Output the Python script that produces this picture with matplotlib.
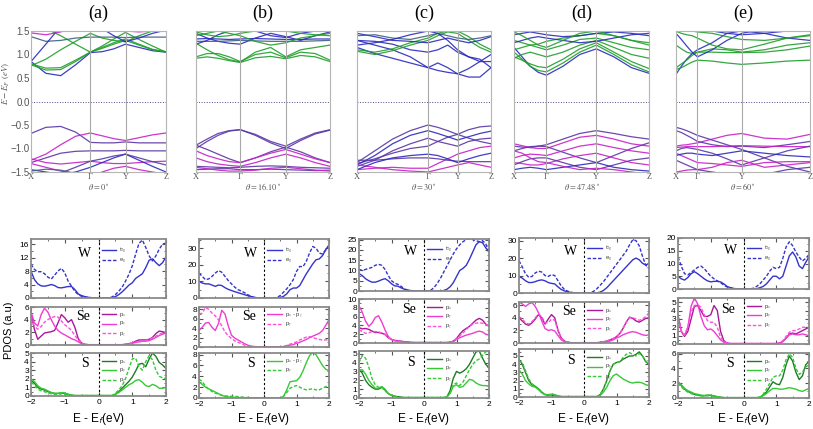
"""Band structures and PDOS of WSSe for five twist angles."""

import matplotlib

matplotlib.use("Agg")
import matplotlib.pyplot as plt
import numpy as np
from matplotlib.ticker import AutoMinorLocator, MultipleLocator

plt.rcParams["font.family"] = ["Liberation Sans", "DejaVu Sans"]
plt.rcParams["mathtext.fontset"] = "stix"

# ---------------------------------------------------------------- labels
panel_titles = ["(a)", "(b)", "(c)", "(d)", "(e)"]
theta_labels = ["0", "16.10", "30", "47.48", "60"]
kpath_labels = ["X", "Γ", "Y", "Z"]

# ---------------------------------------------------------------- band data
k_nodes = [
    [0.0, 0.44, 0.70, 1.0],
    [0.0, 0.33, 0.67, 1.0],
    [0.0, 0.53, 0.75, 1.0],
    [0.0, 0.24, 0.61, 1.0],
    [0.0, 0.16, 0.49, 1.0],
]
k_a = [0.0, 0.11, 0.22, 0.33, 0.44, 0.527, 0.613, 0.70, 0.80, 0.90, 1.0]
k_b = [0.0, 0.0825, 0.165, 0.2475, 0.33, 0.443, 0.557, 0.67, 0.78, 0.89, 1.0]
k_c = [0.0, 0.1325, 0.265, 0.3975, 0.53, 0.603, 0.677, 0.75, 0.833, 0.917, 1.0]
k_d = [0.0, 0.06, 0.12, 0.18, 0.24, 0.363, 0.487, 0.61, 0.74, 0.87, 1.0]
k_e = [0.0, 0.04, 0.08, 0.12, 0.16, 0.27, 0.38, 0.49, 0.66, 0.83, 1.0]

bands_a = [
    [0.85, 0.60, 0.55, 0.78, 1.04, 1.06, 1.12, 1.22, 1.15, 1.08, 1.05],
    [0.78, 0.67, 0.68, 0.85, 1.05, 1.13, 1.22, 1.30, 1.20, 1.10, 1.05],
    [0.80, 0.71, 0.72, 0.88, 1.05, 1.15, 1.25, 1.33, 1.22, 1.11, 1.06],
    [0.76, 0.90, 1.10, 1.28, 1.45, 1.35, 1.30, 1.27, 1.40, 1.50, 1.55],
    [1.62, 1.55, 1.40, 1.22, 1.05, 1.18, 1.33, 1.47, 1.32, 1.18, 1.05],
    [1.38, 1.28, 1.30, 1.35, 1.37, 1.37, 1.37, 1.36, 1.37, 1.37, 1.37],
    [0.85, 1.22, 1.60, 1.80, 1.80, 1.55, 1.40, 1.27, 1.35, 1.45, 1.52],
    [1.46, 1.42, 1.48, 1.60, 1.70, 1.65, 1.55, 1.50, 1.48, 1.50, 1.52],
    [-0.68, -0.55, -0.53, -0.65, -0.87, -0.88, -0.88, -0.86, -0.88, -0.88, -0.88],
    [-1.25, -1.12, -0.92, -0.74, -0.67, -0.73, -0.79, -0.83, -0.77, -0.71, -0.67],
    [-1.30, -1.20, -1.10, -1.06, -1.05, -1.05, -1.05, -1.04, -1.05, -1.05, -1.05],
    [-1.22, -1.30, -1.33, -1.30, -1.27, -1.30, -1.32, -1.32, -1.30, -1.28, -1.27],
    [-1.45, -1.50, -1.55, -1.50, -1.40, -1.30, -1.20, -1.12, -1.25, -1.38, -1.50],
    [-1.32, -1.40, -1.48, -1.55, -1.60, -1.50, -1.42, -1.38, -1.45, -1.50, -1.55],
    [-1.60, -1.58, -1.52, -1.40, -1.27, -1.22, -1.16, -1.12, -1.20, -1.28, -1.35],
    [-1.48, -1.44, -1.46, -1.53, -1.62, -1.70, -1.70, -1.70, -1.70, -1.70, -1.70],
]
chars_a = ["W", "S", "S", "S", "S", "WS", "W", "Se",
           "WSe", "Se", "WSe", "Se", "W", "Se", "WSe", "WS"]

bands_b = [
    [0.92, 0.95, 0.92, 0.87, 0.83, 0.93, 0.96, 0.91, 0.98, 0.95, 0.85],
    [0.95, 1.02, 1.02, 0.95, 0.85, 1.00, 1.05, 0.93, 1.05, 1.02, 0.88],
    [1.24, 1.10, 0.98, 0.89, 0.84, 1.05, 1.15, 0.95, 1.10, 1.15, 1.20],
    [1.45, 1.35, 1.28, 1.24, 1.22, 1.35, 1.45, 1.38, 1.30, 1.40, 1.48],
    [1.28, 1.28, 1.28, 1.29, 1.30, 1.29, 1.28, 1.28, 1.28, 1.29, 1.30],
    [1.33, 1.34, 1.33, 1.32, 1.33, 1.34, 1.33, 1.32, 1.32, 1.33, 1.33],
    [1.22, 1.30, 1.42, 1.50, 1.55, 1.50, 1.40, 1.36, 1.45, 1.50, 1.50],
    [1.40, 1.45, 1.50, 1.45, 1.40, 1.28, 1.20, 1.25, 1.35, 1.40, 1.45],
    [1.48, 1.42, 1.38, 1.40, 1.45, 1.50, 1.55, 1.50, 1.45, 1.42, 1.40],
    [-0.93, -0.80, -0.68, -0.62, -0.60, -0.70, -0.85, -0.95, -0.80, -0.67, -0.60],
    [-1.00, -0.85, -0.72, -0.63, -0.60, -0.72, -0.88, -1.00, -0.83, -0.69, -0.61],
    [-0.93, -1.02, -1.12, -1.22, -1.30, -1.20, -1.07, -0.97, -1.07, -1.20, -1.30],
    [-1.05, -1.15, -1.22, -1.28, -1.30, -1.20, -1.10, -1.02, -1.12, -1.22, -1.30],
    [-1.20, -1.28, -1.33, -1.36, -1.38, -1.30, -1.20, -1.12, -1.20, -1.30, -1.38],
    [-1.38, -1.39, -1.40, -1.41, -1.40, -1.38, -1.37, -1.38, -1.40, -1.41, -1.42],
    [-1.45, -1.44, -1.43, -1.43, -1.45, -1.45, -1.44, -1.45, -1.46, -1.47, -1.46],
    [-1.40, -1.43, -1.46, -1.48, -1.48, -1.46, -1.42, -1.40, -1.43, -1.46, -1.48],
]
chars_b = ["S", "S", "S", "W", "WS", "W", "W", "S", "S",
           "WSe", "WSe", "WSe", "Se", "Se", "WSe", "WSe", "Se"]

bands_c = [
    [1.15, 1.02, 0.92, 0.82, 0.72, 0.66, 0.62, 0.59, 0.52, 0.52, 0.72],
    [1.30, 1.20, 1.10, 0.95, 0.72, 0.82, 0.72, 0.59, 0.70, 0.85, 1.00],
    [1.30, 1.28, 1.22, 1.10, 1.05, 1.10, 1.20, 1.05, 0.95, 0.90, 0.72],
    [1.07, 1.00, 1.08, 1.20, 1.30, 1.40, 1.48, 1.45, 1.30, 1.15, 1.05],
    [1.10, 1.05, 1.12, 1.25, 1.35, 1.45, 1.50, 1.50, 1.38, 1.22, 1.10],
    [1.45, 1.38, 1.30, 1.28, 1.25, 1.30, 1.35, 1.30, 1.25, 1.30, 1.38],
    [1.40, 1.42, 1.35, 1.32, 1.40, 1.45, 1.40, 1.35, 1.32, 1.35, 1.40],
    [1.20, 1.25, 1.32, 1.42, 1.50, 1.45, 1.30, 1.10, 0.95, 0.85, 0.85],
    [-1.30, -1.05, -0.80, -0.62, -0.50, -0.55, -0.62, -0.70, -0.78, -0.85, -0.90],
    [-1.32, -1.22, -1.10, -1.00, -0.95, -0.85, -0.76, -0.70, -0.60, -0.54, -0.52],
    [-1.35, -1.15, -0.90, -0.72, -0.62, -0.68, -0.75, -0.82, -0.75, -0.68, -0.63],
    [-1.38, -1.25, -1.05, -0.90, -0.78, -0.85, -0.90, -0.95, -0.85, -0.80, -0.78],
    [-1.45, -1.42, -1.40, -1.42, -1.42, -1.32, -1.22, -1.12, -1.05, -0.98, -0.95],
    [-1.25, -1.25, -1.22, -1.20, -1.20, -1.22, -1.25, -1.27, -1.28, -1.28, -1.28],
    [-1.35, -1.40, -1.45, -1.48, -1.50, -1.45, -1.40, -1.35, -1.30, -1.35, -1.40],
    [-1.45, -1.30, -1.20, -1.15, -1.12, -1.15, -1.22, -1.30, -1.22, -1.15, -1.10],
]
chars_c = ["W", "W", "W", "S", "S", "W", "WS", "W",
           "WSe", "WSe", "W", "WSe", "Se", "WSe", "Se", "W"]

bands_d = [
    [1.15, 0.95, 0.75, 0.62, 0.56, 0.75, 1.00, 1.12, 0.95, 0.72, 0.60],
    [1.05, 0.90, 0.75, 0.66, 0.63, 0.82, 1.05, 1.20, 1.00, 0.78, 0.63],
    [0.95, 0.88, 0.80, 0.74, 0.72, 0.90, 1.12, 1.25, 1.05, 0.85, 0.70],
    [0.92, 1.00, 1.05, 1.00, 0.95, 1.05, 1.20, 1.30, 1.15, 1.00, 0.92],
    [1.10, 1.15, 1.20, 1.15, 1.10, 1.20, 1.32, 1.35, 1.25, 1.15, 1.10],
    [1.30, 1.25, 1.20, 1.22, 1.28, 1.35, 1.40, 1.45, 1.40, 1.30, 1.25],
    [1.25, 1.30, 1.35, 1.38, 1.35, 1.30, 1.25, 1.28, 1.35, 1.42, 1.45],
    [1.42, 1.45, 1.48, 1.45, 1.42, 1.38, 1.40, 1.45, 1.48, 1.45, 1.40],
    [1.48, 1.40, 1.30, 1.20, 1.15, 1.30, 1.45, 1.50, 1.40, 1.30, 1.20],
    [-0.95, -0.97, -0.98, -0.95, -0.92, -0.80, -0.68, -0.62, -0.68, -0.75, -0.80],
    [-0.90, -0.94, -0.98, -1.00, -1.00, -0.88, -0.76, -0.72, -0.80, -0.90, -0.95],
    [-1.05, -1.00, -0.96, -0.95, -0.96, -1.08, -1.20, -1.30, -1.15, -1.00, -0.88],
    [-1.20, -1.15, -1.12, -1.13, -1.15, -1.05, -0.95, -0.90, -0.98, -1.05, -1.10],
    [-1.30, -1.32, -1.35, -1.35, -1.32, -1.22, -1.15, -1.10, -1.20, -1.30, -1.35],
    [-1.35, -1.28, -1.22, -1.20, -1.20, -1.30, -1.40, -1.45, -1.35, -1.25, -1.20],
    [-1.45, -1.42, -1.40, -1.42, -1.45, -1.40, -1.35, -1.30, -1.40, -1.45, -1.48],
    [-1.05, -1.10, -1.20, -1.28, -1.30, -1.38, -1.45, -1.42, -1.45, -1.50, -1.55],
]
chars_d = ["W", "S", "S", "S", "S", "S", "W", "W", "S",
           "WSe", "Se", "WSe", "Se", "Se", "WSe", "W", "Se"]

bands_e = [
    [0.58, 0.75, 0.90, 1.02, 1.10, 1.25, 1.45, 1.50, 1.45, 1.35, 1.30],
    [0.68, 0.72, 0.78, 0.84, 0.88, 0.86, 0.82, 0.79, 0.82, 0.86, 0.88],
    [0.72, 0.80, 0.88, 0.98, 1.05, 1.05, 1.04, 1.04, 1.05, 1.10, 1.18],
    [1.20, 1.12, 1.05, 1.02, 1.05, 1.12, 1.10, 1.05, 1.10, 1.20, 1.25],
    [1.45, 1.32, 1.18, 1.05, 0.95, 1.10, 1.30, 1.45, 1.55, 1.60, 1.60],
    [1.50, 1.45, 1.42, 1.40, 1.35, 1.20, 1.12, 1.10, 1.22, 1.35, 1.40],
    [1.55, 1.55, 1.55, 1.55, 1.55, 1.50, 1.45, 1.42, 1.45, 1.50, 1.55],
    [1.48, 1.50, 1.52, 1.50, 1.48, 1.45, 1.38, 1.32, 1.30, 1.35, 1.42],
    [-0.95, -0.93, -0.92, -0.90, -0.88, -0.80, -0.72, -0.68, -0.78, -0.80, -0.70],
    [-0.55, -0.58, -0.62, -0.67, -0.72, -0.82, -0.92, -1.02, -1.20, -1.38, -1.50],
    [-0.62, -0.66, -0.72, -0.78, -0.85, -0.92, -0.96, -0.95, -0.98, -0.92, -0.85],
    [-0.98, -0.97, -0.96, -0.96, -0.96, -0.96, -0.95, -0.94, -0.95, -0.96, -0.96],
    [-1.05, -1.00, -0.98, -1.00, -1.02, -1.10, -1.22, -1.35, -1.20, -1.05, -0.95],
    [-1.10, -1.15, -1.20, -1.25, -1.30, -1.32, -1.35, -1.38, -1.30, -1.28, -1.28],
    [-1.50, -1.48, -1.46, -1.45, -1.45, -1.40, -1.30, -1.25, -1.40, -1.35, -1.30],
    [-1.25, -1.30, -1.35, -1.40, -1.45, -1.50, -1.55, -1.60, -1.55, -1.45, -1.40],
    [-1.15, -1.12, -1.10, -1.10, -1.12, -1.15, -1.10, -1.05, -1.10, -1.15, -1.18],
]
chars_e = ["W", "S", "S", "S", "W", "S", "W", "S",
           "Se", "WSe", "WSe", "Se", "WSe", "Se", "Se", "WSe", "W"]

# ---------------------------------------------------------------- PDOS data
energy = np.round(np.arange(-2.0, 2.05, 0.1), 1)

w_t2g_a = [8.0, 5.5, 4.2, 3.6, 3.5, 3.7, 4.0, 3.7, 3.1, 3.0,
           3.2, 3.4, 3.4, 2.5, 1.2, 0.7, 0.4, 0.2, 0.1, 0.0,
           0.0, 0.0, 0.0, 0.0, 0.1, 0.4, 1.0, 1.8, 2.8, 3.8,
           4.5, 5.8, 6.5, 7.2, 9.0, 11.2, 11.6, 10.5, 9.6, 10.5, 12.2]
w_eg_a = [10.0, 8.5, 7.8, 7.8, 7.2, 6.2, 5.6, 6.8, 8.0, 8.8,
          7.5, 5.0, 3.5, 2.0, 1.0, 0.5, 0.3, 0.1, 0.0, 0.0,
          0.0, 0.0, 0.0, 0.0, 0.3, 1.0, 2.0, 3.2, 5.0, 7.0,
          9.5, 13.0, 16.2, 17.2, 15.0, 12.5, 11.0, 12.5, 14.5, 16.0, 16.3]
se_px_a = [5.0, 2.5, 0.9, 1.4, 1.9, 2.0, 2.1, 2.3, 3.5, 4.8,
           4.3, 3.6, 4.0, 2.8, 1.0, 0.3, 0.1, 0.05, 0.05, 0.05,
           0.05, 0.05, 0.05, 0.05, 0.05, 0.05, 0.05, 0.05, 0.1, 0.2,
           0.3, 0.6, 0.8, 0.8, 0.8, 0.9, 1.2, 1.8, 2.2, 2.1, 1.9]
se_py_a = [5.3, 3.5, 3.0, 4.8, 5.8, 5.2, 4.0, 3.0, 2.3, 1.9,
           1.6, 1.3, 1.0, 0.8, 0.5, 0.2, 0.1, 0.05, 0.05, 0.05,
           0.05, 0.05, 0.05, 0.05, 0.05, 0.05, 0.05, 0.05, 0.1, 0.2,
           0.3, 0.4, 0.5, 0.6, 0.6, 0.7, 0.9, 1.2, 1.5, 1.7, 1.9]
se_pz_a = [4.2, 3.0, 2.5, 2.9, 3.6, 4.0, 4.3, 4.5, 4.4, 3.8,
           3.2, 2.8, 2.3, 1.5, 0.8, 0.3, 0.1, 0.05, 0.05, 0.05,
           0.05, 0.05, 0.05, 0.05, 0.05, 0.05, 0.05, 0.05, 0.1, 0.2,
           0.3, 0.4, 0.5, 0.6, 0.7, 0.9, 1.1, 1.4, 1.7, 1.9, 2.1]
s_px_a = [1.8, 1.5, 1.0, 0.8, 0.7, 0.5, 0.4, 0.3, 0.3, 0.35,
          0.3, 0.2, 0.1, 0.05, 0.05, 0.05, 0.05, 0.05, 0.05, 0.05,
          0.05, 0.05, 0.05, 0.05, 0.05, 0.2, 0.5, 0.9, 1.3, 1.7,
          2.2, 2.9, 3.7, 3.8, 3.4, 4.3, 5.0, 4.6, 3.9, 3.6, 3.2]
s_py_a = [2.0, 1.7, 1.2, 0.9, 0.8, 0.6, 0.4, 0.3, 0.3, 0.4,
          0.35, 0.2, 0.1, 0.05, 0.05, 0.05, 0.05, 0.05, 0.05, 0.05,
          0.05, 0.05, 0.05, 0.05, 0.05, 0.2, 0.4, 0.7, 1.0, 1.3,
          1.5, 1.8, 1.9, 1.6, 1.2, 1.1, 1.35, 1.2, 0.9, 0.9, 1.0]
s_pz_a = [1.6, 1.3, 0.8, 0.6, 0.5, 0.35, 0.25, 0.2, 0.2, 0.25,
          0.2, 0.1, 0.05, 0.05, 0.05, 0.05, 0.05, 0.05, 0.05, 0.05,
          0.05, 0.05, 0.05, 0.05, 0.05, 0.3, 0.7, 1.2, 2.0, 3.2,
          4.3, 4.4, 3.4, 3.0, 4.0, 4.7, 4.2, 3.0, 2.3, 2.1, 2.0]

w_t2g_b = [10.0, 9.0, 8.5, 8.5, 7.8, 7.0, 7.8, 7.5, 6.2, 5.2,
           4.5, 3.8, 3.2, 2.6, 2.0, 1.4, 0.9, 0.4, 0.1, 0.0,
           0.0, 0.0, 0.0, 0.0, 0.0, 0.3, 1.0, 2.5, 5.0, 6.0,
           6.0, 7.5, 11.0, 14.5, 17.5, 20.5, 23.0, 23.5, 25.5, 29.0, 32.0]
w_eg_b = [15.0, 13.0, 11.0, 11.5, 13.0, 15.0, 16.5, 15.5, 13.0, 10.5,
          8.5, 6.5, 5.0, 4.2, 3.2, 2.0, 1.0, 0.3, 0.1, 0.0,
          0.0, 0.0, 0.0, 0.0, 0.3, 1.5, 3.5, 5.5, 8.0, 11.0,
          16.0, 19.0, 18.8, 22.0, 27.0, 31.0, 30.0, 27.0, 26.5, 29.0, 31.0]
se_pxpz_b = [3.5, 4.2, 5.1, 5.2, 4.2, 3.5, 5.0, 7.8, 7.0, 4.5,
             2.5, 1.9, 1.5, 1.1, 0.7, 0.4, 0.2, 0.1, 0.05, 0.05,
             0.05, 0.05, 0.05, 0.05, 0.05, 0.05, 0.1, 0.3, 0.4, 0.5,
             0.8, 1.0, 1.3, 1.6, 2.0, 2.3, 2.6, 2.9, 3.5, 4.6, 5.8]
se_py_b = [7.0, 7.2, 8.4, 8.0, 7.2, 6.6, 5.8, 4.5, 3.2, 2.4,
           1.8, 1.3, 1.0, 0.7, 0.4, 0.2, 0.1, 0.05, 0.05, 0.05,
           0.05, 0.05, 0.05, 0.05, 0.05, 0.05, 0.1, 0.3, 0.6, 0.8,
           1.1, 1.5, 1.8, 2.1, 2.2, 2.0, 1.8, 1.6, 1.5, 1.5, 1.5]
s_pxpz_b = [3.0, 2.5, 2.0, 1.7, 1.4, 1.1, 0.8, 0.5, 0.3, 0.2,
            0.15, 0.1, 0.05, 0.05, 0.05, 0.05, 0.05, 0.05, 0.05, 0.05,
            0.05, 0.05, 0.05, 0.05, 0.05, 0.05, 0.3, 1.5, 3.0, 3.1,
            3.2, 3.8, 5.0, 6.5, 7.8, 8.4, 8.0, 7.0, 6.0, 5.3, 5.0]
s_py_b = [3.5, 3.0, 2.2, 1.6, 1.2, 0.9, 0.7, 0.5, 0.4, 0.35,
          0.3, 0.3, 0.25, 0.2, 0.15, 0.1, 0.05, 0.05, 0.05, 0.05,
          0.05, 0.05, 0.05, 0.05, 0.05, 0.05, 0.3, 1.0, 1.8, 2.1,
          2.3, 2.0, 1.7, 1.5, 1.6, 1.7, 1.5, 1.5, 1.8, 2.1, 2.0]

w_t2g_c = [8.5, 7.5, 6.0, 5.0, 4.3, 4.3, 4.8, 5.5, 6.0, 5.0,
           3.5, 2.5, 2.3, 1.5, 0.8, 0.4, 0.2, 0.1, 0.0, 0.0,
           0.0, 0.0, 0.0, 0.0, 0.0, 0.0, 0.2, 0.8, 2.0, 4.0,
           7.0, 10.0, 11.0, 12.5, 15.5, 19.0, 22.5, 24.0, 23.5, 21.0, 19.0]
w_eg_c = [10.5, 10.0, 10.5, 11.0, 11.5, 12.5, 13.0, 12.5, 10.5, 7.5,
          5.0, 3.8, 3.2, 2.2, 1.0, 0.4, 0.1, 0.0, 0.0, 0.0,
          0.0, 0.0, 0.3, 1.5, 3.5, 6.0, 9.0, 12.0, 15.0, 18.0,
          20.5, 22.5, 24.0, 25.0, 25.5, 25.0, 24.5, 24.0, 24.5, 23.0, 19.0]
se_px_c = [3.5, 3.2, 3.3, 3.1, 2.7, 2.4, 2.4, 2.2, 2.0, 1.2,
           0.8, 0.6, 0.5, 0.4, 0.3, 0.2, 0.15, 0.1, 0.1, 0.1,
           0.1, 0.1, 0.1, 0.1, 0.1, 0.1, 0.1, 0.1, 0.2, 0.4,
           1.0, 2.0, 2.8, 3.3, 3.8, 4.5, 5.2, 5.6, 5.2, 4.3, 3.8]
se_py_c = [8.5, 7.0, 5.0, 3.8, 4.5, 5.8, 6.2, 4.8, 3.0, 1.5,
           0.8, 0.5, 0.4, 0.3, 0.25, 0.2, 0.1, 0.1, 0.1, 0.1,
           0.1, 0.1, 0.1, 0.1, 0.1, 0.1, 0.1, 0.1, 0.1, 0.3,
           0.8, 1.2, 1.5, 1.8, 2.0, 2.2, 2.5, 2.7, 2.5, 2.0, 1.8]
se_pz_c = [3.0, 2.6, 2.2, 2.3, 2.6, 2.6, 2.5, 2.3, 1.9, 1.2,
           0.8, 0.5, 0.4, 0.3, 0.2, 0.1, 0.1, 0.1, 0.1, 0.1,
           0.1, 0.1, 0.1, 0.1, 0.1, 0.1, 0.1, 0.1, 0.1, 0.4,
           1.0, 1.6, 2.3, 3.0, 3.8, 4.3, 4.5, 4.6, 4.5, 4.2, 3.9]
s_px_c = [3.3, 2.8, 2.0, 1.5, 1.2, 1.0, 1.0, 1.2, 0.9, 0.5,
          0.3, 0.2, 0.15, 0.1, 0.05, 0.05, 0.05, 0.05, 0.05, 0.05,
          0.05, 0.05, 0.05, 0.05, 0.05, 0.05, 0.05, 0.1, 0.8, 2.2,
          3.0, 2.8, 3.0, 3.3, 3.8, 4.5, 5.2, 5.3, 4.5, 3.8, 3.4]
s_py_c = [3.1, 3.2, 2.7, 2.0, 1.5, 1.1, 1.1, 1.3, 1.0, 0.5,
          0.3, 0.2, 0.05, 0.05, 0.05, 0.05, 0.05, 0.05, 0.05, 0.05,
          0.05, 0.05, 0.05, 0.05, 0.05, 0.05, 0.05, 0.1, 0.5, 1.3,
          1.5, 1.2, 1.3, 1.7, 2.1, 2.0, 1.7, 1.5, 1.4, 1.4, 1.3]
s_pz_c = [4.0, 4.8, 4.5, 3.5, 2.2, 1.5, 1.2, 1.2, 0.8, 0.5,
          0.3, 0.2, 0.05, 0.05, 0.05, 0.05, 0.05, 0.05, 0.05, 0.05,
          0.05, 0.05, 0.05, 0.05, 0.05, 0.05, 0.05, 0.1, 0.5, 1.5,
          1.7, 1.4, 1.8, 2.5, 3.2, 3.8, 4.2, 4.4, 4.8, 5.2, 5.3]

w_t2g_d = [9.5, 8.5, 7.0, 6.0, 6.0, 6.5, 7.2, 7.5, 7.0, 6.0,
           5.5, 5.2, 3.5, 2.0, 1.2, 0.6, 0.3, 0.1, 0.0, 0.0,
           0.0, 0.0, 0.0, 0.0, 0.1, 0.5, 1.5, 3.0, 5.0, 7.0,
           9.0, 11.0, 13.0, 15.0, 17.0, 19.0, 20.0, 19.0, 17.0, 16.0, 17.0]
w_eg_d = [18.5, 15.0, 11.0, 9.0, 9.5, 11.5, 12.5, 12.0, 10.0, 9.5,
          10.5, 10.0, 7.0, 4.0, 2.0, 1.0, 0.4, 0.1, 0.0, 0.0,
          0.0, 0.0, 0.2, 1.0, 2.5, 4.5, 6.5, 9.0, 11.5, 14.0,
          16.5, 19.0, 21.5, 24.0, 27.5, 30.5, 30.0, 27.0, 21.0, 16.0, 14.0]
se_px_d = [4.0, 3.5, 3.0, 2.8, 3.2, 3.8, 4.5, 4.0, 3.0, 3.8,
           4.5, 4.0, 2.0, 0.8, 0.3, 0.1, 0.05, 0.05, 0.05, 0.05,
           0.05, 0.05, 0.05, 0.05, 0.05, 0.1, 0.2, 0.3, 0.5, 0.7,
           1.0, 1.5, 2.3, 3.3, 4.1, 3.9, 3.5, 3.3, 3.6, 3.9, 4.0]
se_py_d = [6.5, 6.2, 5.8, 6.2, 6.4, 5.8, 4.8, 3.5, 2.3, 2.0,
           2.1, 1.9, 1.2, 0.5, 0.2, 0.1, 0.05, 0.05, 0.05, 0.05,
           0.05, 0.05, 0.05, 0.05, 0.05, 0.05, 0.1, 0.2, 0.3, 0.5,
           0.8, 1.0, 1.3, 1.5, 1.7, 1.8, 1.7, 1.5, 1.3, 1.2, 1.3]
se_pz_d = [4.2, 3.8, 3.2, 3.0, 3.4, 4.0, 4.6, 4.2, 3.2, 3.2,
           3.8, 3.6, 2.0, 0.8, 0.3, 0.1, 0.05, 0.05, 0.05, 0.05,
           0.05, 0.05, 0.05, 0.05, 0.05, 0.1, 0.2, 0.3, 0.5, 0.7,
           1.0, 1.5, 2.3, 3.3, 4.0, 4.0, 3.8, 3.6, 3.8, 4.2, 4.8]
s_px_d = [4.6, 4.0, 3.0, 2.0, 1.5, 1.3, 1.0, 0.6, 0.3, 0.2,
          0.2, 0.2, 0.1, 0.05, 0.05, 0.05, 0.05, 0.05, 0.05, 0.05,
          0.05, 0.05, 0.05, 0.05, 0.05, 0.3, 1.0, 2.0, 3.2, 4.0,
          4.2, 4.3, 4.6, 4.8, 5.0, 5.0, 5.2, 5.5, 5.0, 4.3, 4.0]
s_py_d = [3.3, 2.8, 2.0, 1.6, 1.3, 1.2, 0.9, 0.5, 0.3, 0.3,
          0.35, 0.3, 0.15, 0.05, 0.05, 0.05, 0.05, 0.05, 0.05, 0.05,
          0.05, 0.05, 0.05, 0.05, 0.05, 0.2, 0.6, 1.2, 2.0, 2.6,
          2.8, 2.5, 2.2, 2.0, 1.8, 1.7, 1.8, 1.8, 1.7, 1.5, 1.4]
s_pz_d = [4.4, 4.2, 3.2, 2.2, 1.6, 1.3, 1.0, 0.6, 0.3, 0.2,
          0.2, 0.15, 0.1, 0.05, 0.05, 0.05, 0.05, 0.05, 0.05, 0.05,
          0.05, 0.05, 0.05, 0.05, 0.05, 0.3, 1.0, 2.0, 3.2, 4.0,
          4.2, 4.3, 4.8, 5.2, 5.4, 5.2, 5.0, 5.3, 5.0, 4.4, 4.0]

w_t2g_e = [5.0, 4.0, 3.5, 4.5, 6.0, 6.8, 6.0, 5.0, 4.0, 3.2,
           2.8, 3.0, 3.0, 2.8, 2.0, 1.0, 0.5, 0.2, 0.1, 0.0,
           0.0, 0.0, 0.0, 0.0, 0.1, 0.5, 1.0, 2.0, 3.5, 5.0,
           5.0, 4.0, 5.0, 9.0, 13.0, 14.5, 12.5, 9.0, 8.0, 10.5, 12.5]
w_eg_e = [12.5, 9.0, 6.0, 5.5, 6.5, 7.5, 8.5, 9.0, 8.0, 6.5,
          5.0, 4.0, 3.2, 2.5, 1.5, 0.8, 0.4, 0.2, 0.0, 0.0,
          0.0, 0.0, 0.0, 0.3, 1.0, 2.0, 3.5, 5.0, 7.0, 8.5,
          8.0, 8.5, 12.0, 16.5, 18.5, 17.0, 14.5, 12.5, 11.0, 12.0, 13.5]
se_px_e = [3.3, 1.5, 0.9, 1.5, 3.0, 4.5, 4.6, 4.0, 3.3, 3.3,
           3.5, 4.6, 4.0, 1.5, 0.4, 0.1, 0.05, 0.05, 0.05, 0.05,
           0.05, 0.05, 0.05, 0.05, 0.05, 0.05, 0.05, 0.05, 0.05, 0.05,
           0.05, 0.1, 0.3, 0.7, 1.2, 1.3, 1.2, 1.4, 1.6, 1.8, 2.0]
se_py_e = [3.5, 1.5, 1.0, 2.0, 4.5, 5.5, 4.8, 3.3, 2.2, 1.7,
           1.8, 1.5, 1.0, 0.5, 0.2, 0.1, 0.05, 0.05, 0.05, 0.05,
           0.05, 0.05, 0.05, 0.05, 0.05, 0.05, 0.05, 0.05, 0.05, 0.05,
           0.05, 0.1, 0.3, 0.7, 1.1, 1.2, 1.1, 1.1, 1.2, 1.1, 1.0]
se_pz_e = [3.0, 1.5, 1.1, 2.0, 3.8, 4.6, 4.7, 4.4, 3.5, 2.8,
           2.6, 2.6, 2.0, 0.8, 0.3, 0.1, 0.05, 0.05, 0.05, 0.05,
           0.05, 0.05, 0.05, 0.05, 0.05, 0.05, 0.05, 0.05, 0.05, 0.05,
           0.05, 0.1, 0.4, 0.9, 1.4, 1.6, 1.6, 1.8, 2.0, 2.0, 2.0]
s_px_e = [2.2, 1.7, 1.2, 0.9, 0.7, 0.5, 0.4, 0.3, 0.3, 0.35,
          0.35, 0.25, 0.15, 0.1, 0.05, 0.05, 0.05, 0.05, 0.05, 0.05,
          0.05, 0.05, 0.05, 0.05, 0.05, 0.1, 0.4, 0.8, 1.5, 2.2,
          1.9, 1.8, 2.8, 4.5, 5.7, 5.0, 3.5, 2.5, 3.0, 4.5, 5.0]
s_py_e = [2.2, 1.8, 1.3, 1.0, 0.8, 0.6, 0.5, 0.4, 0.35, 0.4,
          0.4, 0.3, 0.2, 0.1, 0.05, 0.05, 0.05, 0.05, 0.05, 0.05,
          0.05, 0.05, 0.05, 0.05, 0.05, 0.1, 0.3, 0.6, 1.0, 1.3,
          1.3, 1.2, 1.2, 1.3, 1.4, 1.3, 1.2, 1.0, 0.9, 1.1, 1.3]
s_pz_e = [2.0, 1.5, 1.1, 0.8, 0.6, 0.45, 0.35, 0.3, 0.25, 0.3,
          0.3, 0.2, 0.1, 0.05, 0.05, 0.05, 0.05, 0.05, 0.05, 0.05,
          0.05, 0.05, 0.05, 0.05, 0.05, 0.1, 0.5, 1.2, 2.0, 2.8,
          3.0, 3.0, 3.8, 5.2, 6.0, 5.5, 4.0, 3.2, 3.5, 4.2, 4.5]

# ---------------------------------------------------------------- styles
W_PX, H_PX = 813, 429
BAND_COLORS = {"W": "#2a2abf", "S": "#1f9e2a", "Se": "#c81fc8",
               "WSe": "#5a36a6", "WS": "#3d5f7f"}
C_W = "#3434cc"
C_SE_X, C_SE_Y, C_SE_Z = "#a8189a", "#f03cd2", "#ff50dc"
C_S_X, C_S_Y, C_S_Z = "#1f7a25", "#36c936", "#36c936"
DASH = (0, (2.5, 1.3))
GRAY = "#8a8a8a"

band_axes_px = [(31, 166), (196, 330), (357, 491), (514, 649), (676, 810)]
pdos_axes_px = [
    ((31, 166), [(239, 298), (307, 345), (353, 396)]),
    ((199, 329), [(239, 298), (307, 347), (353, 398)]),
    ((359, 489), [(239, 291), (299, 343), (351, 398)]),
    ((519, 649), [(238, 293), (302, 343), (349, 397)]),
    ((678, 809), [(238, 289), (298, 344), (353, 398)]),
]
pdos_ylim = [[17.5, 6, 5], [35.5, 8.5, 8.3], [25.3, 10, 5.3],
             [31.5, 6.5, 5.85], [20, 5.5, 6.1]]
pdos_ystep = [[4, 2, 1], [10, 2, 2], [5, 2, 1], [10, 2, 1], [5, 1, 2]]
label_x = [0.40, 0.385, 0.40]


def px_rect(x0, x1, y0, y1):
    return [x0 / W_PX, 1 - y1 / H_PX, (x1 - x0) / W_PX, (y1 - y0) / H_PX]


def draw_bands(ax, k, nodes, bands, chars, first):
    for vals, ch in zip(bands, chars):
        ax.plot(k, vals, color=BAND_COLORS[ch], lw=0.9, alpha=0.9)
    ax.axhline(0, ls=":", color="#4b4b8c", lw=0.7)
    for n in nodes[1:-1]:
        ax.axvline(n, color="#a8a8a8", lw=0.8)
    ax.set_xlim(0, 1)
    ax.set_ylim(-1.5, 1.5)
    ax.set_xticks(nodes)
    ax.set_xticklabels(kpath_labels, family="Liberation Serif", fontsize=6, color="#555555")
    ax.tick_params(axis="x", length=0, pad=0.5)
    for sp in ax.spines.values():
        sp.set_color("#b5b5b5")
        sp.set_linewidth(0.8)
    if first:
        ax.set_yticks([-1.5, -1.0, -0.5, 0.0, 0.5, 1.0, 1.5])
        ax.set_yticklabels(["−1.5", "−1.0", "−0.5", "0.0", "0.5", "1.0", "1.5"])
        ax.tick_params(axis="y", length=0, pad=1, labelsize=7, labelcolor="#555555")
    else:
        ax.set_yticks([])


def draw_pdos(ax, curves, ymax, ystep, label, lx, bottom):
    for vals, color, ls, name in curves:
        ax.plot(energy, vals, color=color, ls=ls, lw=1.0, label=name)
    ax.axvline(0, color="black", ls=(0, (2, 2)), lw=0.8)
    ax.set_xlim(-2, 2)
    ax.set_ylim(0, ymax)
    ax.xaxis.set_major_locator(MultipleLocator(1))
    ax.xaxis.set_minor_locator(MultipleLocator(0.5))
    ax.yaxis.set_major_locator(MultipleLocator(ystep))
    ax.yaxis.set_minor_locator(AutoMinorLocator(2))
    ax.tick_params(which="both", direction="in", top=True, right=True,
                   color="#555555", labelsize=6, pad=1.5)
    ax.tick_params(axis="x", pad=2.5)
    ax.tick_params(which="major", length=3, width=0.8)
    ax.tick_params(which="minor", length=1.6, width=0.6)
    if not bottom:
        ax.tick_params(axis="x", labelbottom=False)
    for sp in ax.spines.values():
        sp.set_color(GRAY)
        sp.set_linewidth(1.3)
    ax.text(lx, 0.76, label, transform=ax.transAxes, ha="center", va="center",
            family="Liberation Serif", fontsize=10)
    ax.legend(loc="upper left", bbox_to_anchor=(0.52, 0.9), frameon=False,
              fontsize=4.3, handlelength=2.4, handletextpad=0.5,
              labelspacing=0.15, borderpad=0.1, borderaxespad=0.0,
              labelcolor="#444444")


def main() -> None:
    fig = plt.figure(figsize=(W_PX / 100, H_PX / 100), dpi=100)

    ks = [k_a, k_b, k_c, k_d, k_e]
    all_bands = [bands_a, bands_b, bands_c, bands_d, bands_e]
    all_chars = [chars_a, chars_b, chars_c, chars_d, chars_e]

    tg, eg = "t$_{2g}$", "e$_g$"
    px_, py_, pz_ = "p$_x$", "p$_y$", "p$_z$"
    pxz = "p$_x$ - p$_z$"
    pdos_sets = [
        [[(w_t2g_a, C_W, "-", tg), (w_eg_a, C_W, DASH, eg)],
         [(se_px_a, C_SE_X, "-", px_), (se_py_a, C_SE_Y, "-", py_), (se_pz_a, C_SE_Z, DASH, pz_)],
         [(s_px_a, C_S_X, "-", px_), (s_py_a, C_S_Y, "-", py_), (s_pz_a, C_S_Z, DASH, pz_)]],
        [[(w_t2g_b, C_W, "-", tg), (w_eg_b, C_W, DASH, eg)],
         [(se_pxpz_b, C_SE_Y, "-", pxz), (se_py_b, C_SE_Z, DASH, py_)],
         [(s_pxpz_b, C_S_Y, "-", pxz), (s_py_b, C_S_Z, DASH, py_)]],
        [[(w_t2g_c, C_W, "-", tg), (w_eg_c, C_W, DASH, eg)],
         [(se_px_c, C_SE_X, "-", px_), (se_py_c, C_SE_Y, "-", py_), (se_pz_c, C_SE_Z, DASH, pz_)],
         [(s_px_c, C_S_X, "-", px_), (s_py_c, C_S_Y, "-", py_), (s_pz_c, C_S_Z, DASH, pz_)]],
        [[(w_t2g_d, C_W, "-", tg), (w_eg_d, C_W, DASH, eg)],
         [(se_px_d, C_SE_X, "-", px_), (se_py_d, C_SE_Y, "-", py_), (se_pz_d, C_SE_Z, DASH, pz_)],
         [(s_px_d, C_S_X, "-", px_), (s_py_d, C_S_Y, "-", py_), (s_pz_d, C_S_Z, DASH, pz_)]],
        [[(w_t2g_e, C_W, "-", tg), (w_eg_e, C_W, DASH, eg)],
         [(se_px_e, C_SE_X, "-", px_), (se_py_e, C_SE_Y, "-", py_), (se_pz_e, C_SE_Z, DASH, pz_)],
         [(s_px_e, C_S_X, "-", px_), (s_py_e, C_S_Y, "-", py_), (s_pz_e, C_S_Z, DASH, pz_)]],
    ]
    element_labels = ["W", "Se", "S"]

    for i in range(5):
        x0, x1 = band_axes_px[i]
        ax = fig.add_axes(px_rect(x0, x1, 31, 172))
        draw_bands(ax, ks[i], k_nodes[i], all_bands[i], all_chars[i], i == 0)
        cx = (x0 + x1) / 2 / W_PX
        fig.text(cx, 1 - 13 / H_PX, panel_titles[i], ha="center", va="center",
                 family="Liberation Serif", fontsize=13)
        fig.text(cx, 1 - 187 / H_PX, rf"$\theta = {theta_labels[i]}^\circ$",
                 ha="center", va="center", fontsize=6, color="#555555")

        (px0, px1), rows = pdos_axes_px[i]
        for j, (top, bot) in enumerate(rows):
            pax = fig.add_axes(px_rect(px0, px1, top, bot))
            draw_pdos(pax, pdos_sets[i][j], pdos_ylim[i][j], pdos_ystep[i][j],
                      element_labels[j], label_x[j], j == 2)
        fig.text((px0 + px1) / 2 / W_PX, 1 - 419 / H_PX, r"E - E$_\mathsf{f}$(eV)",
                 ha="center", va="center", fontsize=8.5)

    fig.text(6.5 / W_PX, 1 - 83 / H_PX, r"$E - E_F\ (eV)$", rotation=90,
             ha="center", va="center", fontsize=6.5, color="#555555")
    fig.text(9 / W_PX, 1 - 330 / H_PX, "PDOS (a.u)", rotation=90,
             ha="center", va="center", fontsize=8)

    fig.savefig("out.png", dpi=100)


if __name__ == "__main__":
    main()
